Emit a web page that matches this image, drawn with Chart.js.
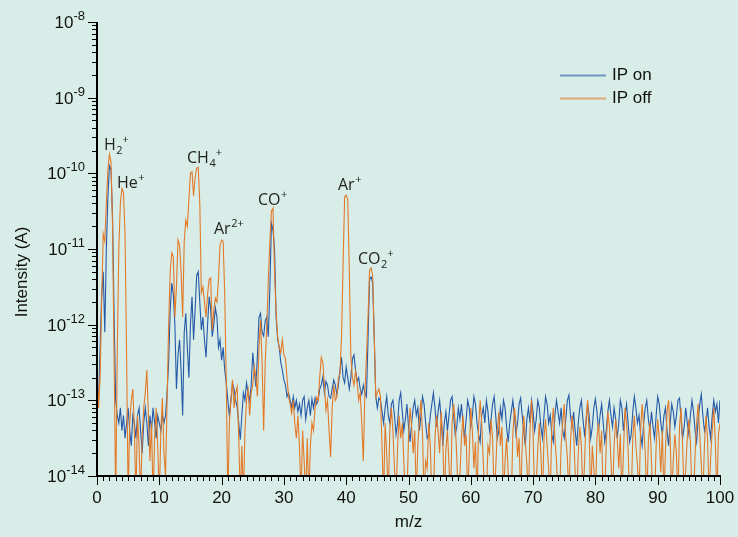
<!DOCTYPE html>
<html>
<head>
<meta charset="utf-8">
<script src="https://cdn.jsdelivr.net/npm/chart.js@4.4.1/dist/chart.umd.min.js"></script>
<style>
  html, body { margin: 0; padding: 0; background: #d9ede8; }
</style>
</head>
<body>
<canvas id="myChartLine" width="738" height="537"></canvas>
<script>
// m/z grid step of the scan
const mzStep = 0.25;

// log10 of intensity (A), one value every 0.25 m/z
const ipOnLog = [
  -12.8, -13.0, -12.3, -11.6, -11.3, -12.1, -11.0, -10.3, -9.9, -9.95,
  -10.6, -11.9, -13.0, -13.2, -13.3, -13.1, -13.4, -13.2, -13.5, -13.3,
  -13.1, -13.4, -13.6, -13.2, -13.3, -13.5, -13.2, -13.1, -13.4, -13.7,
  -13.3, -13.1, -13.3, -13.6, -13.2, -13.4, -13.1, -13.3, -13.5, -13.2,
  -13.3, -13.4, -13.2, -13.3, -13.2, -12.9, -12.5, -11.8, -11.45, -11.6,
  -12.0, -12.85, -12.4, -12.2, -12.6, -13.2, -12.1, -11.85, -12.3, -12.7,
  -12.0, -11.63, -12.2, -11.8, -11.35, -11.3, -11.7, -12.07, -11.9, -12.2,
  -12.43, -12.0, -11.63, -11.8, -12.16, -12.0, -11.78, -11.9, -12.3, -12.2,
  -12.47, -12.3, -12.6, -12.77, -13.0, -13.2, -13.0, -12.77, -12.85, -13.0,
  -13.09, -13.3, -13.52, -13.2, -12.9, -13.0, -12.77, -12.9, -13.0, -12.8,
  -12.37, -12.6, -12.82, -12.4, -11.9, -11.85, -12.1, -12.15, -11.95, -11.9,
  -12.16, -11.5, -10.66, -10.75, -11.0, -11.9, -12.2, -12.3, -12.5, -12.6,
  -12.73, -12.8, -12.95, -12.9, -13.0, -13.09, -12.95, -13.1, -13.0, -13.15,
  -13.05, -13.2, -13.0, -12.95, -13.25, -13.1, -13.0, -13.2, -12.98, -13.1,
  -12.97, -13.05, -13.0, -12.85, -12.8, -12.69, -12.9, -12.75, -12.8, -12.95,
  -12.97, -12.85, -12.73, -12.8, -12.92, -12.8, -12.6, -12.43, -12.7, -12.77,
  -12.56, -12.7, -12.85, -12.7, -12.45, -12.4, -12.6, -12.75, -12.7, -12.85,
  -12.92, -12.8, -12.9, -12.95, -12.2, -11.4, -11.37, -11.45, -12.16, -12.95,
  -13.1, -12.97, -13.0, -13.15, -13.3, -13.1, -12.95, -13.2, -13.3, -13.05,
  -13.0, -13.2, -13.45, -13.3, -13.0, -12.9, -13.15, -13.4, -13.25, -13.05,
  -13.35, -13.55, -13.3, -13.1, -13.0, -13.2, -13.1, -13.4, -13.2, -12.95,
  -13.05, -13.3, -13.5, -13.45, -13.2, -13.05, -12.9, -13.1, -13.35, -13.15,
  -13.0, -13.25, -13.6, -13.3, -13.15, -13.4, -13.2, -13.0, -12.95, -13.2,
  -13.45, -13.35, -13.1, -13.25, -13.05, -13.3, -13.5, -13.25, -13.0, -13.1,
  -13.35, -13.2, -12.95, -13.05, -13.3, -13.45, -13.55, -13.2, -13.1, -13.3,
  -13.0, -13.15, -13.4, -13.25, -13.05, -12.95, -13.2, -13.5, -13.4, -13.1,
  -13.25, -13.0, -13.1, -13.35, -13.55, -13.3, -13.15, -13.0, -13.2, -13.45,
  -13.3, -13.05, -12.97, -13.2, -13.4, -13.6, -13.25, -13.1, -13.3, -13.0,
  -13.15, -13.4, -13.25, -13.0, -13.1, -13.35, -13.5, -13.2, -12.95, -13.05,
  -13.3, -13.2, -13.45, -13.55, -13.2, -13.0, -13.15, -13.3, -13.1, -13.4,
  -13.5, -13.25, -13.0, -12.93, -13.2, -13.35, -13.15, -13.4, -13.6, -13.3,
  -13.1, -13.0, -13.25, -13.45, -13.3, -13.05, -13.2, -13.5, -13.35, -13.1,
  -12.98, -13.15, -13.4, -13.2, -13.05, -13.3, -13.55, -13.4, -13.15, -13.0,
  -13.2, -13.35, -13.1, -13.25, -13.5, -13.3, -13.0, -13.1, -13.4, -13.2,
  -13.05, -13.3, -13.55, -13.45, -13.15, -12.95, -13.1, -13.3, -13.2, -13.45,
  -13.6, -13.3, -13.1, -13.0, -13.25, -13.4, -13.15, -13.35, -13.5, -13.2,
  -12.95, -13.05, -13.3, -13.45, -13.2, -13.1, -13.4, -13.6, -13.3, -13.05,
  -13.15, -13.35, -13.2, -13.0, -12.97, -13.25, -13.5, -13.35, -13.1, -13.3,
  -13.45, -13.2, -13.0, -13.15, -13.4, -13.55, -13.25, -13.05, -12.92, -13.2,
  -13.4, -13.3, -13.1, -13.35, -13.5, -13.2, -13.0, -13.15, -13.05, -13.3, -13.0
];

const ipOffLog = [
  -12.5, -13.1, -12.7, -11.7, -10.8, -10.9, -10.4, -9.95, -9.75, -9.85,
  -10.7, -12.5, -14.3, -12.4, -11.0, -10.4, -10.2, -10.25, -10.8, -12.4,
  -14.3, -13.3, -13.0, -12.85, -13.4, -14.3, -13.2, -13.6, -14.3, -13.5,
  -13.1, -12.9, -12.6, -13.2, -13.8, -13.3, -14.3, -13.5, -13.1, -13.6,
  -14.3, -13.4, -12.97, -13.7, -14.0, -13.0, -12.0, -11.3, -11.05, -11.1,
  -11.9, -11.5, -10.88, -10.95, -11.3, -11.9, -10.9, -10.62, -10.7, -10.35,
  -10.0, -9.98, -10.3, -10.05, -9.93, -9.92, -10.4, -11.58, -11.5, -11.7,
  -11.9, -11.6, -11.4, -11.38, -12.07, -11.8, -11.65, -11.7, -11.4, -10.95,
  -10.88, -10.9, -11.6, -12.77, -14.3, -13.3, -13.0, -12.73, -13.1, -12.9,
  -12.82, -13.5, -14.3, -13.6, -14.3, -13.4, -13.0, -12.86, -13.2, -12.9,
  -12.8, -12.56, -12.7, -12.95, -12.3, -11.94, -12.5, -13.4, -12.5, -12.03,
  -11.4, -10.9, -10.5, -10.46, -11.3, -11.85, -12.16, -12.3, -12.37, -12.2,
  -12.4, -12.45, -12.7, -12.95, -13.05, -13.17, -13.0, -13.3, -13.5, -13.2,
  -13.6, -14.3, -13.4, -13.8, -14.3, -13.5, -14.3, -13.6, -13.3, -13.4,
  -13.1, -12.96, -13.0, -12.7, -12.43, -12.5, -12.8, -13.13, -13.0, -13.4,
  -13.75, -13.1, -12.8, -13.0, -12.96, -12.7, -12.65, -12.16, -11.2, -10.31,
  -10.29, -10.35, -11.28, -12.43, -12.7, -12.8, -12.62, -12.75, -13.0, -12.9,
  -13.3, -13.8, -12.9, -12.43, -11.9, -11.28, -11.25, -11.35, -12.16, -12.96,
  -12.9, -12.85, -12.95, -13.6, -14.3, -13.3, -13.7, -14.3, -13.4, -13.1,
  -13.4, -13.9, -14.3, -13.6, -13.2, -13.5, -13.3, -13.8, -14.3, -14.3,
  -13.5, -13.1, -13.35, -13.7, -13.4, -14.3, -13.6, -13.25, -13.0, -13.45,
  -14.3, -13.8, -13.9, -13.3, -13.6, -14.3, -14.3, -13.5, -13.2, -13.4,
  -13.7, -13.15, -13.5, -14.3, -13.65, -13.4, -13.85, -14.3, -13.3, -13.05,
  -13.3, -13.75, -14.3, -14.0, -13.5, -13.2, -13.6, -13.45, -14.3, -13.7,
  -13.1, -13.4, -13.9, -13.55, -14.3, -13.35, -13.0, -13.3, -13.8, -14.3,
  -14.3, -13.6, -13.7, -13.25, -13.5, -14.3, -13.9, -13.4, -13.15, -13.6,
  -13.35, -14.3, -13.8, -13.5, -13.95, -14.3, -14.3, -13.45, -13.1, -13.3,
  -13.75, -13.5, -14.3, -13.6, -13.2, -13.55, -13.85, -14.3, -13.4, -13.0,
  -13.45, -14.3, -14.1, -13.65, -13.3, -13.7, -14.3, -13.5, -13.25, -13.6,
  -13.9, -14.3, -13.35, -13.1, -13.5, -13.8, -14.3, -14.3, -13.6, -13.3,
  -13.05, -13.5, -13.75, -14.3, -13.55, -13.2, -13.4, -13.95, -14.3, -13.7,
  -13.35, -13.6, -14.3, -13.85, -13.25, -13.0, -13.45, -14.3, -13.6, -13.9,
  -14.3, -13.5, -13.3, -13.7, -13.4, -14.3, -14.3, -13.55, -13.15, -13.35,
  -13.8, -14.3, -13.6, -13.25, -13.5, -13.9, -13.45, -14.3, -13.7, -13.1,
  -13.3, -13.65, -14.3, -14.3, -13.5, -13.2, -13.6, -13.85, -14.3, -13.4,
  -13.05, -13.35, -13.7, -14.3, -13.55, -13.3, -13.8, -14.3, -14.3, -13.6,
  -13.25, -13.5, -13.95, -13.4, -14.3, -13.65, -13.15, -13.0, -13.5, -14.3,
  -13.8, -13.45, -13.7, -14.3, -13.35, -13.1, -13.6, -14.3, -13.9, -13.5,
  -13.25, -13.55, -14.3, -14.3, -13.7, -13.3, -13.05, -13.45, -13.85, -14.3,
  -13.6, -13.2, -13.5, -14.3, -13.75, -13.4, -13.1, -13.55, -14.3, -13.45, -13.3
];

const seriesNames = ['IP on', 'IP off'];
const xTicks = [0, 10, 20, 30, 40, 50, 60, 70, 80, 90, 100];
const yDecades = [-14, -13, -12, -11, -10, -9, -8];

// peak labels, anchored at (m/z, log10 intensity) of the text's left baseline
const peakLabels = [
  { main: 'H',  sub: '2', sup: '+',  mz: 1.12,  logI: -9.69 },
  { main: 'He', sub: '',  sup: '+',  mz: 3.21,  logI: -10.19 },
  { main: 'CH', sub: '4', sup: '+',  mz: 14.45, logI: -9.86 },
  { main: 'Ar', sub: '',  sup: '2+', mz: 18.78, logI: -10.80 },
  { main: 'CO', sub: '',  sup: '+',  mz: 25.84, logI: -10.42 },
  { main: 'Ar', sub: '',  sup: '+',  mz: 38.68, logI: -10.22 },
  { main: 'CO', sub: '2', sup: '+',  mz: 41.89, logI: -11.20 }
];

const blue = '#2559a8';
const orange = '#e27a28';
const bg = '#d9ede8';
const axisFont = '"Liberation Sans", Arial, sans-serif';
const labelFont = '"Open Sans", sans-serif';

const toPoints = (arr) => arr.map((v, i) => ({ x: i * mzStep, y: Math.pow(10, v) }));

const decor = {
  id: 'decor',
  beforeDraw(chart) {
    const c = chart.ctx;
    c.save();
    c.fillStyle = bg;
    c.fillRect(0, 0, chart.width, chart.height);
    c.restore();
  },
  afterDraw(chart) {
    const c = chart.ctx;
    const xs = chart.scales.x;
    const ys = chart.scales.y;
    const a = chart.chartArea;
    c.save();
    c.strokeStyle = '#000';
    c.fillStyle = '#111';
    c.lineWidth = 1;

    const seg = (x1, y1, x2, y2) => {
      c.beginPath(); c.moveTo(x1, y1); c.lineTo(x2, y2); c.stroke();
    };

    // y ticks, minor and major, and decade labels
    yDecades.forEach((d, n) => {
      const py = Math.round(ys.getPixelForValue(Math.pow(10, d))) + 0.5;
      seg(a.left - 9, py, a.left, py);
      if (n < yDecades.length - 1) {
        for (let k = 2; k <= 9; k++) {
          const pm = Math.round(ys.getPixelForValue(k * Math.pow(10, d))) + 0.5;
          seg(a.left - 5, pm, a.left, pm);
        }
      }
      const exp = String(d);
      c.textAlign = 'right';
      c.textBaseline = 'middle';
      c.font = '13px ' + axisFont;
      const ew = c.measureText(exp).width;
      c.fillText(exp, a.left - 12, py - 6);
      c.font = '17px ' + axisFont;
      c.fillText('10', a.left - 12 - ew, py + 1);
    });

    // x ticks and labels
    for (let m = 0; m <= 100; m++) {
      const px = Math.round(xs.getPixelForValue(m)) + 0.5;
      const major = m % 10 === 0;
      seg(px, a.bottom, px, a.bottom + (major ? 9 : 5));
    }
    c.textAlign = 'center';
    c.textBaseline = 'middle';
    c.font = '17px ' + axisFont;
    xTicks.forEach(t => c.fillText(String(t), xs.getPixelForValue(t), a.bottom + 22));

    // axis lines
    c.lineWidth = 2;
    c.beginPath();
    c.moveTo(a.left, a.top);
    c.lineTo(a.left, a.bottom);
    c.lineTo(a.right + 1, a.bottom);
    c.stroke();

    // axis titles
    c.fillText('m/z', (a.left + a.right) / 2, a.bottom + 46);
    c.save();
    c.translate(22, (a.top + a.bottom) / 2 + 23);
    c.rotate(-Math.PI / 2);
    c.fillText('Intensity (A)', 0, 0);
    c.restore();

    // legend
    const colors = [blue, orange];
    seriesNames.forEach((name, i) => {
      const ly = 75 + i * 23;
      c.strokeStyle = colors[i];
      c.globalAlpha = 0.6;
      c.lineWidth = 2;
      seg(560, ly + 0.5, 606, ly + 0.5);
      c.globalAlpha = 1;
      c.textAlign = 'left';
      c.font = '17px ' + axisFont;
      c.fillText(name, 612, ly);
    });

    // peak labels
    c.fillStyle = '#222';
    c.textAlign = 'left';
    c.textBaseline = 'alphabetic';
    peakLabels.forEach(p => {
      let x = xs.getPixelForValue(p.mz);
      const y = ys.getPixelForValue(Math.pow(10, p.logI));
      c.font = '16px ' + labelFont;
      c.fillText(p.main, x, y);
      x += c.measureText(p.main).width + 0.5;
      c.font = '11px ' + labelFont;
      if (p.sub) {
        c.fillText(p.sub, x, y + 4);
        x += c.measureText(p.sub).width;
      }
      if (p.sup) c.fillText(p.sup, x, y - 7);
    });
    c.restore();
  }
};

const ctx = document.getElementById('myChartLine');
new Chart(ctx, {
  type: 'line',
  data: {
    datasets: [
      {
        label: seriesNames[0],
        data: toPoints(ipOnLog),
        borderColor: blue,
        borderWidth: 1.1,
        pointRadius: 0,
        tension: 0,
        order: 1
      },
      {
        label: seriesNames[1],
        data: toPoints(ipOffLog),
        borderColor: orange,
        borderWidth: 1.1,
        pointRadius: 0,
        tension: 0,
        order: 0
      }
    ]
  },
  options: {
    responsive: false,
    animation: false,
    layout: { padding: { left: 97, top: 22, right: 18, bottom: 61 } },
    plugins: { legend: { display: false }, tooltip: { enabled: false } },
    scales: {
      x: { type: 'linear', min: 0, max: 100, display: false },
      y: { type: 'logarithmic', min: 1e-14, max: 1e-8, display: false }
    }
  },
  plugins: [decor]
});
</script>
</body>
</html>
